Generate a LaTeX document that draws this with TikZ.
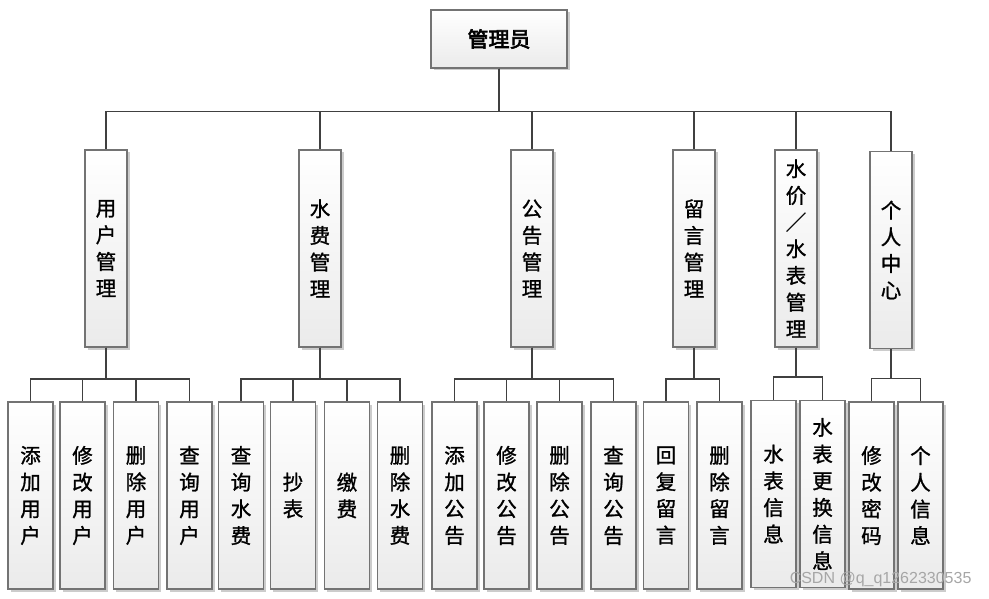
\documentclass[tikz,border=0pt]{standalone}
\usepackage{fontspec}
\newfontfamily\cjk[FakeBold=1.2]{Noto Sans CJK SC}
\newfontfamily\cjkbold[FakeBold=3]{Noto Sans CJK SC}
\newfontfamily\wmfont{Liberation Sans}
\usetikzlibrary{shadows}
\tikzstyle{block}=[align=center, draw=black!55, line width=1.2pt, rectangle, inner sep=0pt,
  top color=white, bottom color=black!8,
  drop shadow={shadow xshift=2.5pt, shadow yshift=-2.5pt, fill=black!20, opacity=1},
  font=\cjk\fontsize{20.5}{26.7}\selectfont]
\tikzstyle{head}=[block, minimum width=136pt, minimum height=58pt, font=\cjkbold\fontsize{21}{24}\selectfont]
\tikzstyle{module}=[block, minimum width=42pt, minimum height=197pt]
\tikzstyle{leaf}=[block, minimum width=45pt, minimum height=187pt]
\tikzstyle{link}=[draw=black!75, line width=1.6pt]

\begin{document}
\begin{tikzpicture}[x=1pt,y=-1pt]
\useasboundingbox (0,0) rectangle (989,599);

\node[head] (admin) at (499,39) {管理员};

% second level
\node[module] (user)   at (106,248.5) {用\\户\\管\\理};
\node[module] (fee)    at (320,248.5) {水\\费\\管\\理};
\node[module] (notice) at (532,248.5) {公\\告\\管\\理};
\node[module] (msg)    at (694,248.5) {留\\言\\管\\理};
\node[module] (meter)  at (796,248.5) {水\\价\\／\\水\\表\\管\\理};
\node[module] (self)   at (891,250)   {个\\人\\中\\心};

% third level
\node[leaf] (useradd)  at (30.5,495.5)  {添\\加\\用\\户};
\node[leaf] (useredit) at (82.5,495.5)  {修\\改\\用\\户};
\node[leaf] (userdel)  at (136,495.5)   {删\\除\\用\\户};
\node[leaf] (userqry)  at (189.5,495.5) {查\\询\\用\\户};

\node[leaf] (feeqry)   at (241,495.5)   {查\\询\\水\\费};
\node[leaf] (feeread)  at (293,495.5)   {抄\\表};
\node[leaf] (feepay)   at (347,495.5)   {缴\\费};
\node[leaf] (feedel)   at (400,495.5)   {删\\除\\水\\费};

\node[leaf] (ntcadd)   at (454.5,495.5) {添\\加\\公\\告};
\node[leaf] (ntcedit)  at (506.5,495.5) {修\\改\\公\\告};
\node[leaf] (ntcdel)   at (559.5,495.5) {删\\除\\公\\告};
\node[leaf] (ntcqry)   at (613.5,495.5) {查\\询\\公\\告};

\node[leaf] (msgreply) at (666,495.5)   {回\\复\\留\\言};
\node[leaf] (msgdel)   at (719.5,495.5) {删\\除\\留\\言};

\node[leaf] (mtrinfo)  at (773.5,494)   {水\\表\\信\\息};
\node[leaf] (mtrswap)  at (822.5,494)   {水\\表\\更\\换\\信\\息};

\node[leaf] (pwd)      at (871.5,495.5) {修\\改\\密\\码};
\node[leaf] (info)     at (920.5,495.5) {个\\人\\信\\息};

% connectors
\foreach \c in {user,fee,notice,msg,meter,self}
  \draw[link] (admin.south) -- ++(0,43) -| (\c.north);
\foreach \c in {useradd,useredit,userdel,userqry}
  \draw[link] (user.south) -- ++(0,31.5) -| (\c.north);
\foreach \c in {feeqry,feeread,feepay,feedel}
  \draw[link] (fee.south) -- ++(0,31.5) -| (\c.north);
\foreach \c in {ntcadd,ntcedit,ntcdel,ntcqry}
  \draw[link] (notice.south) -- ++(0,31.5) -| (\c.north);
\foreach \c in {msgreply,msgdel}
  \draw[link] (msg.south) -- ++(0,31.5) -| (\c.north);
\foreach \c in {mtrinfo,mtrswap}
  \draw[link] (meter.south) -- ++(0,29.5) -| (\c.north);
\foreach \c in {pwd,info}
  \draw[link] (self.south) -- ++(0,29.5) -| (\c.north);

\node[text=black!35, font=\wmfont\fontsize{16}{18}\selectfont, anchor=east] (mark) at (975,579) {CSDN @q\_q1262330535};
\end{tikzpicture}
\end{document}
